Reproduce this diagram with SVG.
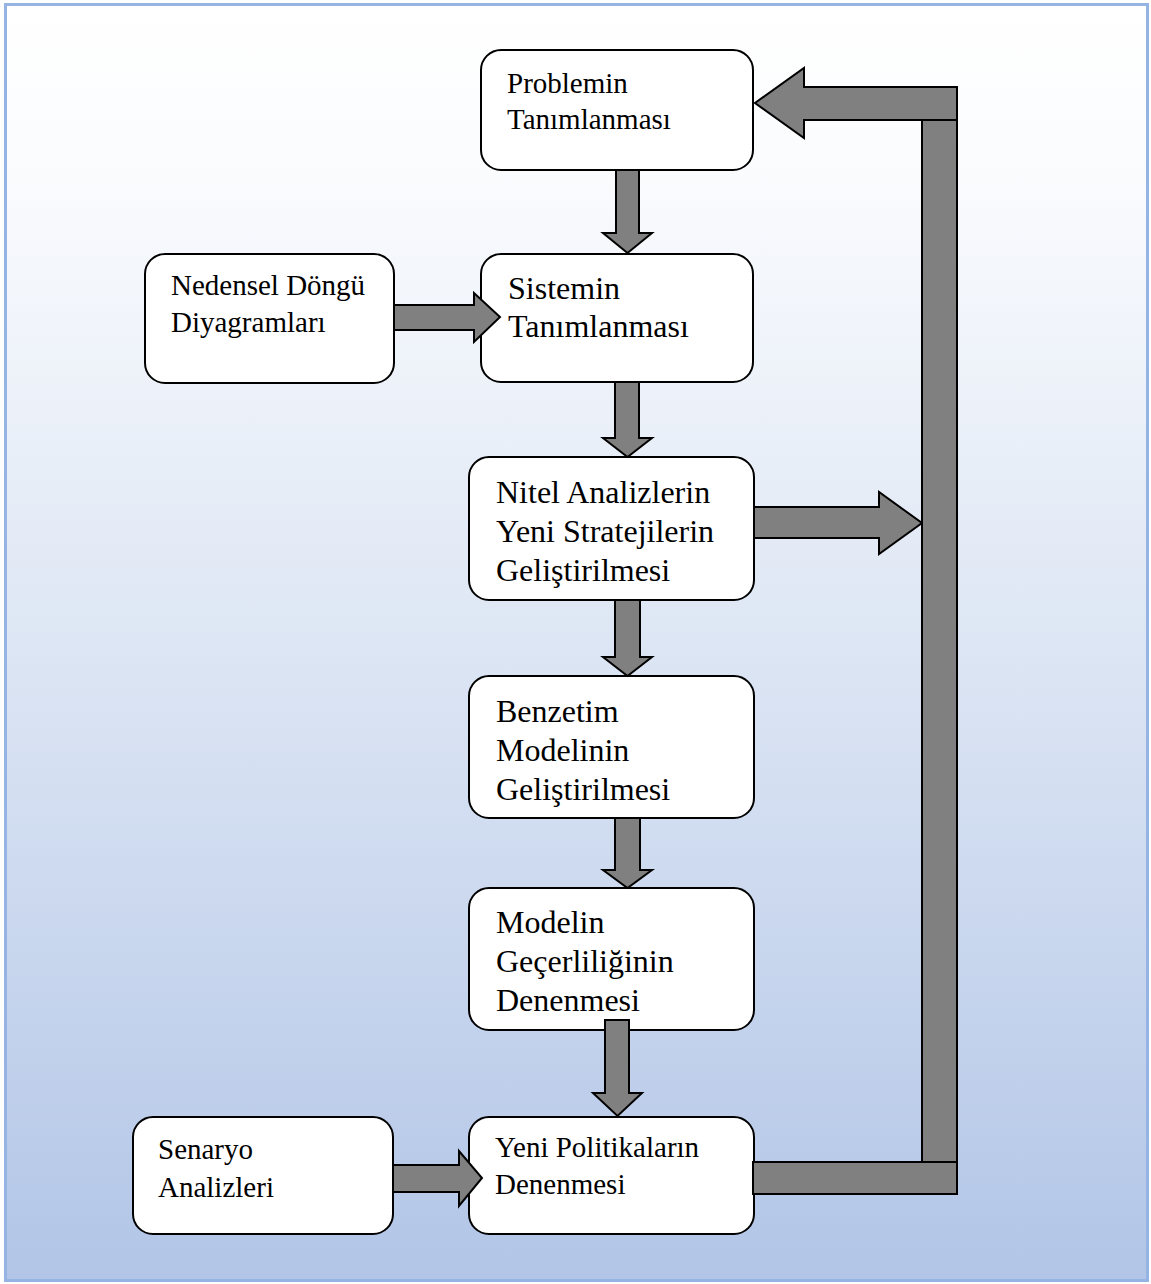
<svg xmlns="http://www.w3.org/2000/svg" width="1151" height="1284" viewBox="0 0 1151 1284">
  <defs>
    <linearGradient id="bg" x1="0" y1="0" x2="0" y2="1">
      <stop offset="0" stop-color="#ffffff"/>
      <stop offset="0.12" stop-color="#fbfcfe"/>
      <stop offset="0.5" stop-color="#dde6f4"/>
      <stop offset="1" stop-color="#b2c5e7"/>
    </linearGradient>
  </defs>
  <style>
    .box { fill: #ffffff; stroke: #000000; stroke-width: 2; }
    .arrow { fill: #808080; stroke: #000000; stroke-width: 2; stroke-linejoin: miter; }
    .lbl { font-family: "Liberation Serif", "Times New Roman", serif; fill: #000000; }
    .sm { font-size: 29px; }
    .lg { font-size: 32px; }
  </style>

  <!-- page frame -->
  <rect x="5.5" y="4.5" width="1142" height="1276" fill="url(#bg)" stroke="#95b3e3" stroke-width="3"/>

  <!-- nodes -->
  <g id="problemin">
    <rect class="box" x="481" y="50" width="272" height="120" rx="20"/>
    <text class="lbl sm" x="507" y="93">Problemin</text>
    <text class="lbl sm" x="507" y="129">Tanımlanması</text>
  </g>
  <g id="nedensel">
    <rect class="box" x="145" y="254" width="249" height="129" rx="20"/>
    <text class="lbl sm" x="171" y="295">Nedensel Döngü</text>
    <text class="lbl sm" x="171" y="332">Diyagramları</text>
  </g>
  <g id="sistemin">
    <rect class="box" x="481" y="254" width="272" height="128" rx="20"/>
    <text class="lbl lg" x="508" y="299">Sistemin</text>
    <text class="lbl lg" x="508" y="337">Tanımlanması</text>
  </g>
  <g id="nitel">
    <rect class="box" x="469" y="457" width="285" height="143" rx="20"/>
    <text class="lbl lg" x="496" y="503">Nitel Analizlerin</text>
    <text class="lbl lg" x="496" y="542">Yeni Stratejilerin</text>
    <text class="lbl lg" x="496" y="581">Geliştirilmesi</text>
  </g>
  <g id="benzetim">
    <rect class="box" x="469" y="676" width="285" height="142" rx="20"/>
    <text class="lbl lg" x="496" y="722">Benzetim</text>
    <text class="lbl lg" x="496" y="761">Modelinin</text>
    <text class="lbl lg" x="496" y="800">Geliştirilmesi</text>
  </g>
  <g id="modelin">
    <rect class="box" x="469" y="888" width="285" height="142" rx="20"/>
    <text class="lbl lg" x="496" y="933">Modelin</text>
    <text class="lbl lg" x="496" y="972">Geçerliliğinin</text>
    <text class="lbl lg" x="496" y="1011">Denenmesi</text>
  </g>
  <g id="senaryo">
    <rect class="box" x="133" y="1117" width="260" height="117" rx="20"/>
    <text class="lbl sm" x="158" y="1159">Senaryo</text>
    <text class="lbl sm" x="158" y="1197">Analizleri</text>
  </g>
  <g id="yeni">
    <rect class="box" x="469" y="1117" width="285" height="117" rx="20"/>
    <text class="lbl sm" x="495" y="1157">Yeni Politikaların</text>
    <text class="lbl sm" x="495" y="1194">Denenmesi</text>
  </g>

  <!-- connectors: block arrows -->
  <g id="connectors">
    <!-- Problemin -> Sistemin -->
    <polygon class="arrow" points="616,170 639,170 639,233 652,233 627.5,253 603,233 616,233"/>
    <!-- Nedensel -> Sistemin -->
    <polygon class="arrow" points="394,305 474,305 474,293 500,317 474,342 474,330 394,330"/>
    <!-- Sistemin -> Nitel -->
    <polygon class="arrow" points="615,382 639,382 639,438 652,438 627.5,457 603,438 615,438"/>
    <!-- Nitel -> feedback line -->
    <polygon class="arrow" points="754,507 879,507 879,492 922,523 879,554 879,538 754,538"/>
    <!-- Nitel -> Benzetim -->
    <polygon class="arrow" points="615,600 640,600 640,657 652,657 627.5,676 603,657 615,657"/>
    <!-- Benzetim -> Modelin -->
    <polygon class="arrow" points="615,818 640,818 640,870 652,870 627.5,888 603,870 615,870"/>
    <!-- Modelin -> Yeni -->
    <polygon class="arrow" points="605,1020 629,1020 629,1093 642,1093 617.5,1116 593,1093 605,1093"/>
    <!-- Senaryo -> Yeni -->
    <polygon class="arrow" points="393,1165 459,1165 459,1151 482,1178 459,1206 459,1192 393,1192"/>
    <!-- feedback loop: Yeni -> back up to Problemin -->
    <rect class="arrow" x="753" y="1162" width="204" height="32"/>
    <rect class="arrow" x="922" y="120" width="35" height="1042"/>
    <polygon class="arrow" points="957,87 804,87 804,68 755,103 804,138 804,120 957,120"/>
  </g>
</svg>
